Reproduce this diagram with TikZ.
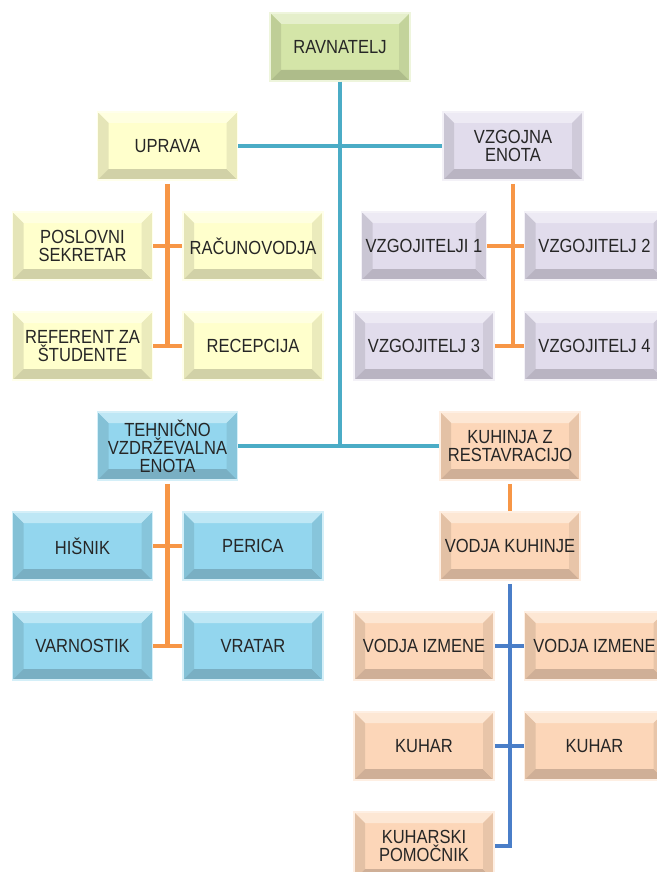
\documentclass[tikz,border=0pt]{standalone}
\usepackage{fontspec}
\setmainfont{Liberation Sans}
\newfontfamily\boxfont[FakeStretch=0.87]{Liberation Sans}
\usepackage{tikz}
\usetikzlibrary{positioning}

\definecolor{ravfill}{HTML}{D4E5A8}
\definecolor{uprfill}{HTML}{FFFFCC}
\definecolor{vzgfill}{HTML}{E1DCEC}
\definecolor{tehfill}{HTML}{93D6EE}
\definecolor{kuhfill}{HTML}{FCD6B8}
\definecolor{tealline}{HTML}{4BACC6}
\definecolor{orangeline}{HTML}{F79646}
\definecolor{blueline}{HTML}{4A7EC8}

\newcommand{\bevw}{11pt}

\begin{document}
\begin{tikzpicture}[
  x=1pt, y=-1pt,
  node distance=30.5pt and 29pt,
  box/.style={rectangle, minimum width=140pt, minimum height=68pt, inner sep=2pt, align=center,
              font=\boxfont\fontsize{19}{18.2}\selectfont, text=black!85},
  bevel/.style={box, fill=#1, draw=#1!40!white, line width=1.5pt,
    path picture={
      \path (path picture bounding box.south west) coordinate (pp-sw)
            (path picture bounding box.north east) coordinate (pp-ne)
            (path picture bounding box.north west) coordinate (pp-nw)
            (path picture bounding box.south east) coordinate (pp-se);
      \fill[#1!60!white] (pp-nw) -- (pp-ne) -- ([xshift=-\bevw,yshift=-\bevw]pp-ne) -- ([xshift=\bevw,yshift=-\bevw]pp-nw) -- cycle;
      \fill[#1!90!black] (pp-nw) -- (pp-sw) -- ([xshift=\bevw,yshift=\bevw]pp-sw) -- ([xshift=\bevw,yshift=-\bevw]pp-nw) -- cycle;
      \fill[#1!82!black] (pp-sw) -- (pp-se) -- ([xshift=-\bevw,yshift=\bevw]pp-se) -- ([xshift=\bevw,yshift=\bevw]pp-sw) -- cycle;
      \fill[#1!92!black] (pp-se) -- (pp-ne) -- ([xshift=-\bevw,yshift=-\bevw]pp-ne) -- ([xshift=-\bevw,yshift=\bevw]pp-se) -- cycle;
    }},
  ravbox/.style={bevel=ravfill},
  uprbox/.style={bevel=uprfill},
  vzgbox/.style={bevel=vzgfill},
  tehbox/.style={bevel=tehfill},
  kuhbox/.style={bevel=kuhfill},
  tlink/.style={draw=tealline, line width=4.5pt},
  olink/.style={draw=orangeline, line width=4.5pt},
  blink/.style={draw=blueline, line width=4.5pt},
]
\useasboundingbox (0,0) rectangle (656,872);

%% --- Top ---
\node[ravbox] (rav) at (340,47) {RAVNATELJ};

%% --- Uprava ---
\node[uprbox] (upr)   at (167.5,146) {UPRAVA};
\node[uprbox] (posl)  at (82.5,246)  {POSLOVNI\\SEKRETAR};
\node[uprbox, right=of posl] (racun) {RAČUNOVODJA};
\node[uprbox, below=of posl] (ref)   {REFERENT ZA\\ŠTUDENTE};
\node[uprbox, right=of ref]  (recep) {RECEPCIJA};

%% --- Vzgojna enota ---
\node[vzgbox] (vzg) at (513,146) {VZGOJNA\\ENOTA};
\node[vzgbox] (vz3) at (424,346) {VZGOJITELJ 3};
\node[vzgbox, right=of vz3] (vz4) {VZGOJITELJ 4};
\node[vzgbox, above=of vz3, minimum width=125pt] (vz1) {VZGOJITELJI 1};
\node[vzgbox, above=of vz4] (vz2) {VZGOJITELJ 2};

%% --- Tehnicno vzdrzevalna enota ---
\node[tehbox] (teh)  at (167.5,446) {TEHNIČNO\\VZDRŽEVALNA\\ENOTA};
\node[tehbox] (hisn) at (82.5,546)  {HIŠNIK};
\node[tehbox, right=of hisn] (peri) {PERICA};
\node[tehbox, below=of hisn] (varn) {VARNOSTIK};
\node[tehbox, right=of varn] (vrat) {VRATAR};

%% --- Kuhinja ---
\node[kuhbox] (kuh) at (510,446) {KUHINJA Z\\RESTAVRACIJO};
\node[kuhbox, below=of kuh] (vk) {VODJA KUHINJE};
\node[kuhbox] (vi1) at (424,646) {VODJA IZMENE};
\node[kuhbox, right=of vi1] (vi2) {VODJA IZMENE};
\node[kuhbox, below=of vi1] (kh1) {KUHAR};
\node[kuhbox, right=of kh1] (kh2) {KUHAR};
\node[kuhbox, below=of kh1] (pom) {KUHARSKI\\POMOČNIK};

%% --- Main lines ---
\draw[tlink] (rav.south) -- (rav.south |- teh.east);
\draw[tlink] (upr) -- (vzg);
\draw[tlink] (teh) -- (kuh);

%% --- Unit lines ---
\draw[olink, shorten <=3pt] (upr.south) -- (upr.south |- ref.east);
\draw[olink] (posl) -- (racun);
\draw[olink] (ref) -- (recep);

\draw[olink, shorten <=3pt] (vzg.south) -- (vzg.south |- vz3.east);
\draw[olink] (vz1) -- (vz2);
\draw[olink] (vz3) -- (vz4);

\draw[olink, shorten <=3pt] (teh.south) -- (teh.south |- varn.east);
\draw[olink] (hisn) -- (peri);
\draw[olink] (varn) -- (vrat);

\draw[olink, shorten <=3pt] (kuh) -- (vk);

\draw[blink, shorten <=3pt] (vk.south) |- (pom.east);
\draw[blink] (vi1) -- (vi2);
\draw[blink] (kh1) -- (kh2);

\end{tikzpicture}
\end{document}
